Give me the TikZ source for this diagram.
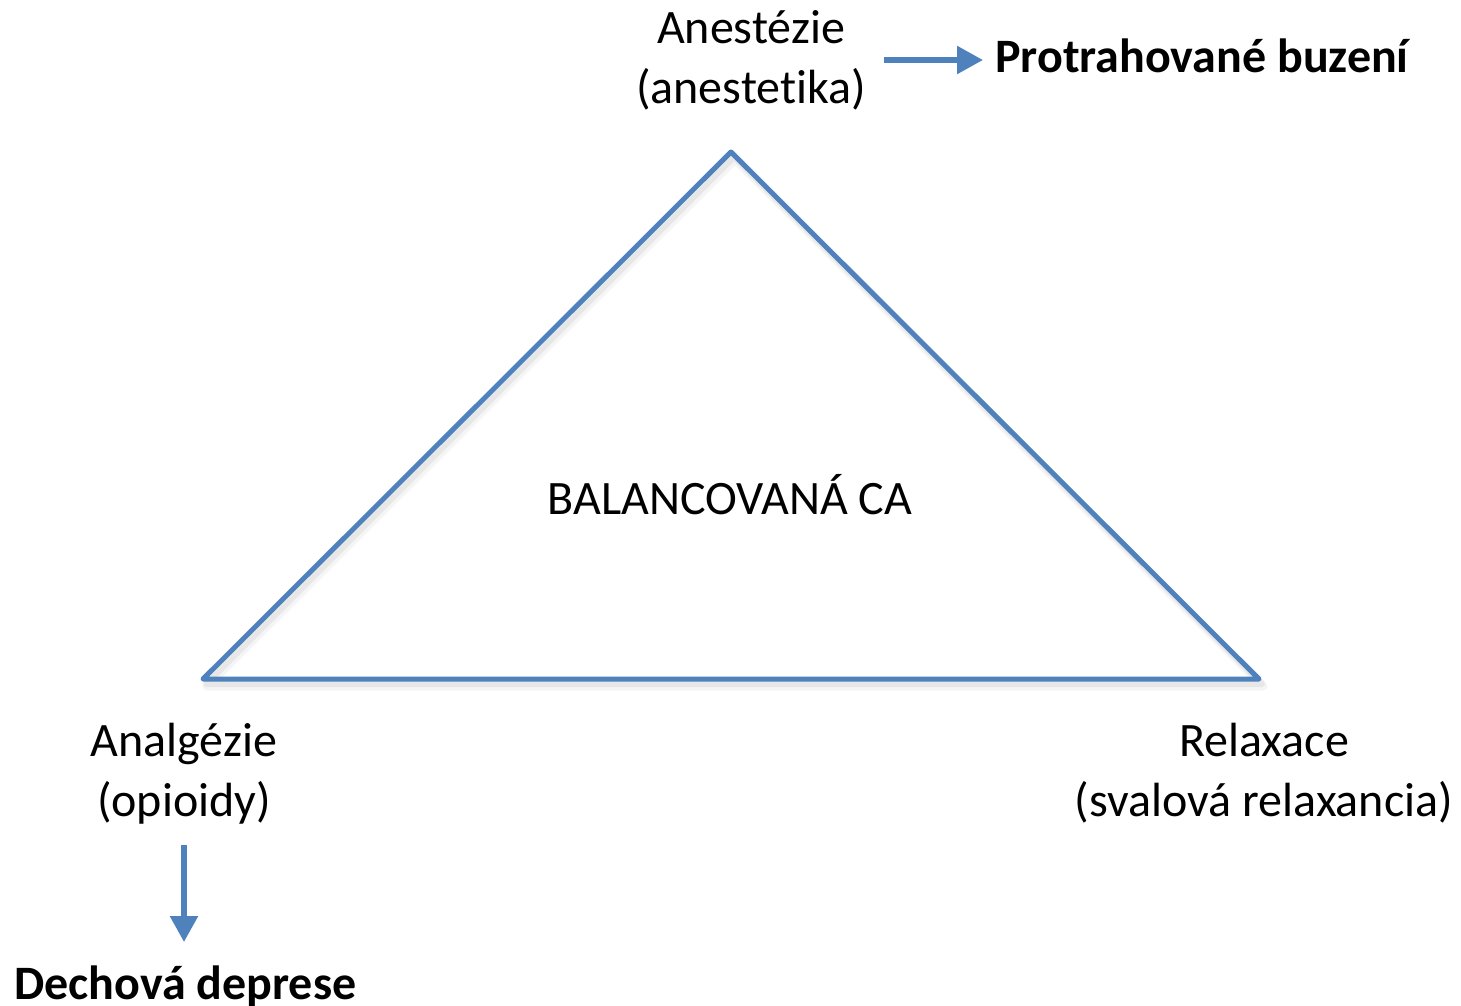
\documentclass[tikz,border=0pt]{standalone}
\usepackage{fontspec}
\setmainfont{Carlito}[Ligatures=NoCommon]
\usetikzlibrary{arrows.meta}
\definecolor{offblue}{HTML}{4F81BD}
\begin{document}
\begin{tikzpicture}[x=1pt,y=-1pt,
  lbl/.style={inner sep=0pt,align=center,font=\fontsize{48}{60}\selectfont},
  boldlbl/.style={lbl,font=\fontsize{48}{60}\selectfont\bfseries},
  edge/.style={draw=offblue,line width=5pt,line join=round,line cap=round},
  shade/.style={draw=black,line width=6pt,line join=round,opacity=0.06},
  arr/.style={draw=offblue,line width=5.5pt,-{Triangle[length=26pt,width=27pt]}}]
  \useasboundingbox (0,0) rectangle (1461,1005);
  % corners of the triangle
  \coordinate (top) at (731,152);
  \coordinate (left) at (203,679);
  \coordinate (right) at (1259,679);
  % soft drop shadow
  \draw[shade] ([shift={(3,5)}]top) -- ([shift={(3,5)}]right) -- ([shift={(3,5)}]left) -- cycle;
  \draw[shade,line width=9pt,opacity=0.04] ([shift={(4,7)}]top) -- ([shift={(4,7)}]right) -- ([shift={(4,7)}]left) -- cycle;
  \draw[edge] (top) -- (right) -- (left) -- cycle;
  % labels (base anchor sits on the last line)
  \node[lbl,anchor=base] (anes) at (751,103) {Anestézie\\(anestetika)};
  \node[boldlbl,anchor=base west] (buz) at (995,72) {Protrahované buzení};
  \node[lbl,anchor=base] (bal) at (730,514) {BALANCOVANÁ CA};
  \node[lbl,anchor=base] (analg) at (184,816) {Analgézie\\(opioidy)};
  \node[lbl,anchor=base] (relax) at (1264,816) {Relaxace\\(svalová relaxancia)};
  \node[boldlbl,anchor=base west] (dech) at (14,999) {Dechová deprese};
  % consequence arrows
  \coordinate (a1) at (anes.east |- 0,60);
  \coordinate (a2) at (buz.west |- 0,60);
  \draw[arr] ([xshift=18pt]a1) -- ([xshift=-12pt]a2);
  \coordinate (b1) at (184,845);
  \coordinate (b2) at (184,942);
  \draw[arr] (b1) -- (b2);
\end{tikzpicture}
\end{document}
